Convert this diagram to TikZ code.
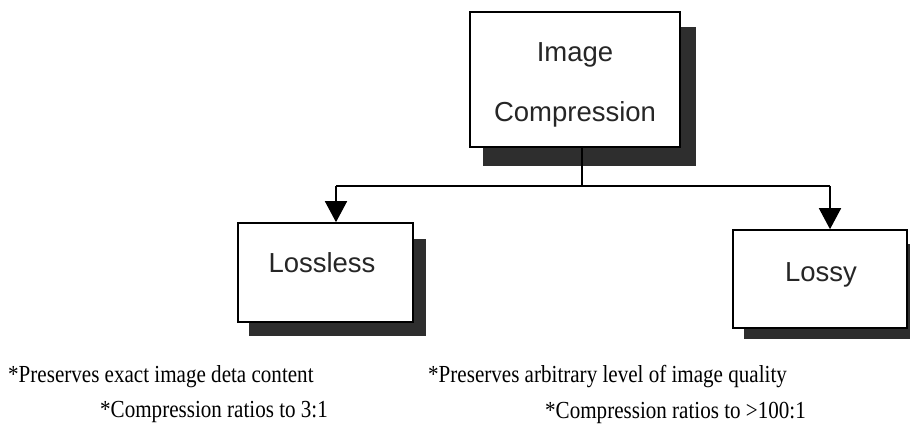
\documentclass[tikz,border=0pt]{standalone}
\usepackage{fontspec}
\setmainfont{Liberation Serif}
\newfontfamily\boxfont{Liberation Sans}
\usetikzlibrary{arrows.meta,calc}

\definecolor{shadowgray}{HTML}{2E2E2E}

\tikzset{
  box/.style={draw=black, line width=1.6pt, fill=white, inner sep=0pt},
  boxtext/.style={inner sep=0pt, align=center, text=black!85,
    font=\boxfont\fontsize{27.5}{60}\selectfont},
  note/.style={inner sep=0pt, anchor=base west,
    font=\fontsize{24.5}{28}\selectfont},
  link/.style={line width=1.6pt},
  arrowlink/.style={line width=1.6pt, -{Triangle[width=22pt,length=21pt]}},
}

\newcommand{\narrow}[1]{\scalebox{0.86}[1]{#1}}

\begin{document}
\begin{tikzpicture}[x=1pt, y=-1pt]
  \useasboundingbox[fill=white] (0,0) rectangle (910,435);

  % boxes
  \node[box, minimum width=210pt, minimum height=135pt] (top) at (575,79.5) {};
  \node[box, minimum width=175pt, minimum height=99pt] (lossless) at (325.5,272.5) {};
  \node[box, minimum width=174pt, minimum height=98pt] (lossy) at (820,279) {};

  % drop shadows: a strip on the right and one along the bottom of each box
  \fill[shadowgray] ($(top.north east)+(0,16)$) rectangle ($(top.south east)+(15,18)$);
  \fill[shadowgray] ($(top.south west)+(14,0)$) rectangle ($(top.south east)+(15,18)$);
  \fill[shadowgray] ($(lossless.north east)+(0,17)$) rectangle ($(lossless.south east)+(12,13)$);
  \fill[shadowgray] ($(lossless.south west)+(12,0)$) rectangle ($(lossless.south east)+(12,13)$);
  \fill[shadowgray] ($(lossy.north east)+(0,15)$) rectangle ($(lossy.south east)+(12,10)$);
  \fill[shadowgray] ($(lossy.south west)+(12,0)$) rectangle ($(lossy.south east)+(12,10)$);

  % box labels
  \node[boxtext] (toptext) at (575,85) {Image\\Compression};
  \node[boxtext, anchor=base] (losslesstext) at (322,273) {Lossless};
  \node[boxtext, anchor=base] (lossytext) at (821,282) {Lossy};

  % connectors
  \coordinate (j) at (582,186);
  \coordinate (jl) at (336,186);
  \coordinate (jr) at (830,186);
  \draw[link] (top.south -| j) -- (j);
  \draw[link] (jl) -- (jr);
  \draw[arrowlink] (jl) -- (lossless.north -| jl);
  \draw[arrowlink] (jr) -- (lossy.north -| jr);

  % notes under the boxes
  \node[note] (n1) at (8,382) {\narrow{*Preserves exact image deta content}};
  \node[note] (n2) at (100,417) {\narrow{*Compression ratios to 3:1}};
  \node[note] (n3) at (428,383) {\narrow{*Preserves arbitrary level of image quality}};
  \node[note] (n4) at (545,418) {\narrow{*Compression ratios to >100:1}};
\end{tikzpicture}
\end{document}
